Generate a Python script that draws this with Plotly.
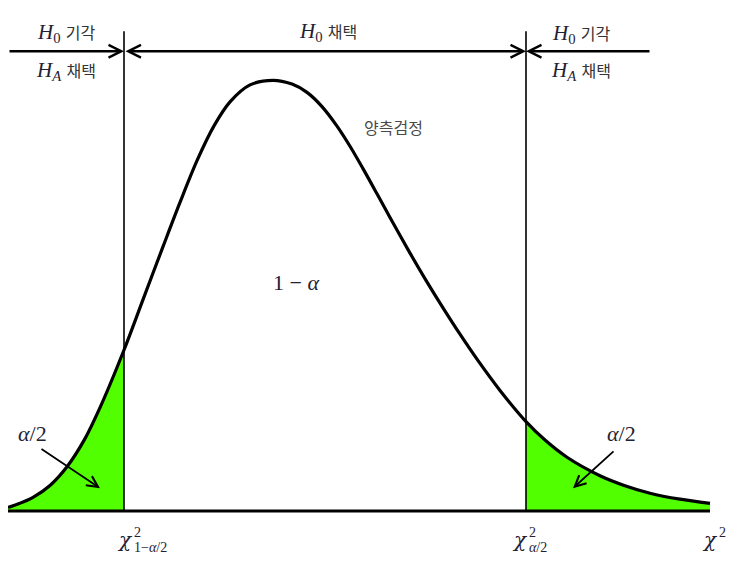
import plotly.graph_objects as go

# ---- data (chi-square value vs. density, arbitrary units) ----
chi_x = [0.0, 0.6, 1.25, 2.1, 2.95, 3.8, 4.6, 5.8, 6.75, 7.75, 8.6, 9.45, 10.3, 11.1,
         12.1, 13.25, 14.2, 14.95, 15.7, 16.45, 17.1, 17.75, 18.45, 19.1, 20.1, 20.9,
         21.75, 22.6, 23.45, 24.6, 25.9, 26.85, 27.95, 29.6, 30.85, 32.1, 33.6, 35.1]
density = [0.00084, 0.00181, 0.00317, 0.00593, 0.01027, 0.01638, 0.02399, 0.03735,
           0.04905, 0.06134, 0.07160, 0.08128, 0.08935, 0.09492, 0.09886, 0.09993,
           0.09905, 0.09713, 0.09383, 0.08930, 0.08463, 0.07944, 0.07360, 0.06810,
           0.05984, 0.05353, 0.04715, 0.04103, 0.03523, 0.02798, 0.02074, 0.01647,
           0.01248, 0.00819, 0.00587, 0.00413, 0.00274, 0.00176]
left_cut = 5.8    # chi^2_{1-alpha/2}
right_cut = 25.9  # chi^2_{alpha/2}

GREEN = "#52ff00"
SERIF = "Liberation Serif, Noto Sans CJK KR, serif"
KR = "Noto Sans CJK KR, sans-serif"

left_x = [x for x in chi_x if x <= left_cut]
left_y = [y for x, y in zip(chi_x, density) if x <= left_cut]
right_x = [x for x in chi_x if x >= right_cut]
right_y = [y for x, y in zip(chi_x, density) if x >= right_cut]

fig = go.Figure()

# shaded rejection regions
for xs, ys in ((left_x, left_y), (right_x, right_y)):
    fig.add_trace(go.Scatter(x=xs, y=ys, mode="lines", fill="tozeroy", cliponaxis=False,
                             fillcolor=GREEN,
                             line=dict(color=GREEN, width=0, shape="spline", smoothing=0.9),
                             hoverinfo="skip"))

# baseline
fig.add_trace(go.Scatter(x=[chi_x[0], chi_x[-1]], y=[0, 0], mode="lines", cliponaxis=False,
                         line=dict(color="black", width=3), hoverinfo="skip"))

# density curve
fig.add_trace(go.Scatter(x=chi_x, y=density, mode="lines", cliponaxis=False,
                         line=dict(color="black", width=3.2, shape="spline", smoothing=0.9),
                         hoverinfo="skip"))

# critical value lines
TOP = 0.1113
for c in (left_cut, right_cut):
    fig.add_trace(go.Scatter(x=[c, c], y=[0, TOP], mode="lines", cliponaxis=False,
                             line=dict(color="black", width=1.6), hoverinfo="skip"))

ARROW_Y = 0.1067
annotations = []
# horizontal region arrows
annotations.append(dict(x=left_cut, y=ARROW_Y, ax=chi_x[0], ay=ARROW_Y, xref="x", yref="y",
                        axref="x", ayref="y", text="", showarrow=True, arrowhead=5,
                        arrowwidth=2.5, arrowsize=1, arrowcolor="black"))
annotations.append(dict(x=right_cut, y=ARROW_Y, ax=left_cut, ay=ARROW_Y, xref="x", yref="y",
                        axref="x", ayref="y", text="", showarrow=True, arrowhead=5,
                        startarrowhead=5, arrowside="end+start", arrowwidth=2.5, arrowsize=1,
                        startarrowsize=1, arrowcolor="black"))
annotations.append(dict(x=right_cut, y=ARROW_Y, ax=32.15, ay=ARROW_Y, xref="x", yref="y",
                        axref="x", ayref="y", text="", showarrow=True, arrowhead=5,
                        arrowwidth=2.5, arrowsize=1, arrowcolor="black"))
# alpha/2 pointers
annotations.append(dict(x=4.6, y=0.0053, ax=1.6, ay=0.0146, xref="x", yref="y",
                        axref="x", ayref="y", text="", showarrow=True, arrowhead=5,
                        arrowwidth=1.8, arrowsize=1.2, arrowcolor="black"))
annotations.append(dict(x=28.25, y=0.0053, ax=30.35, ay=0.01415, xref="x", yref="y",
                        axref="x", ayref="y", text="", showarrow=True, arrowhead=5,
                        arrowwidth=1.8, arrowsize=1.2, arrowcolor="black"))

def txt(x, y, s, size, family=SERIF, color="#1f2233", xanchor="center"):
    annotations.append(dict(x=x, y=y, xref="x", yref="y", text=s, showarrow=False,
                            xanchor=xanchor, yanchor="middle",
                            font=dict(family=family, size=size, color=color)))

kr = lambda s: f'<span style="font-family:Noto Sans CJK KR;font-size:16px;color:#333333">{s}</span>'

txt(2.9, 0.1109, "<i>H</i><sub>0</sub> " + kr("기각"), 21)
txt(2.9, 0.1021, "<i>H</i><sub><i>A</i></sub> " + kr("채택"), 21)
txt(16.0, 0.1111, "<i>H</i><sub>0</sub> " + kr("채택"), 21)
txt(28.65, 0.1107, "<i>H</i><sub>0</sub> " + kr("기각"), 21)
txt(28.65, 0.1021, "<i>H</i><sub><i>A</i></sub> " + kr("채택"), 21)
txt(19.25, 0.0891, "양측검정", 16, family=KR, color="#4a4a4a")
txt(14.4, 0.0531, "1 − <i>α</i>", 22)
txt(1.2, 0.0181, "<i>α</i>/2", 22)
txt(30.65, 0.0181, "<i>α</i>/2", 22)

# chi-square labels on the axis
CHI = "DejaVu Serif, serif"
txt(5.85, -0.0068, "<i>χ</i>", 20, family=CHI)
txt(6.2, -0.0050, "2", 14, xanchor="left")
txt(6.2, -0.0084, "1−<i>α</i>/2", 14, xanchor="left")
txt(25.6, -0.0068, "<i>χ</i>", 20, family=CHI)
txt(25.95, -0.0050, "2", 14, xanchor="left")
txt(25.95, -0.0084, "<i>α</i>/2", 14, xanchor="left")
txt(35.1, -0.0068, "<i>χ</i>", 20, family=CHI)
txt(35.45, -0.0050, "2", 14, xanchor="left")

# the page body adds an 8px offset, so the figure is 8px smaller than the window
fig.update_layout(
    width=726, height=553,
    margin=dict(l=0, r=0, t=0, b=0),
    paper_bgcolor="white", plot_bgcolor="white",
    showlegend=False,
    xaxis=dict(visible=False, range=[0.0, 36.3], fixedrange=True),
    yaxis=dict(visible=False, range=[-0.0116, 0.11671], fixedrange=True),
    annotations=annotations,
)

fig.write_html("out.html")
